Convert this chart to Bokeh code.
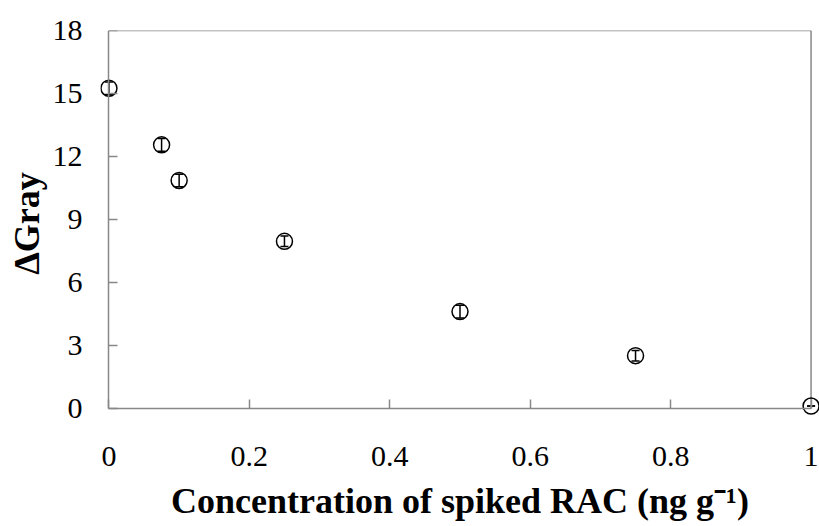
from bokeh.plotting import figure
from bokeh.models import ColumnDataSource, Whisker, TeeHead, Range1d, FixedTicker, LinearAxis
from bokeh.embed import file_html
from bokeh.resources import INLINE

conc = [0.0, 0.075, 0.1, 0.25, 0.5, 0.75, 1.0]
gray = [15.25, 12.55, 10.85, 7.95, 4.6, 2.5, 0.1]
err = [0.3, 0.3, 0.3, 0.25, 0.3, 0.25, 0.0]

x_ticks = [0, 0.2, 0.4, 0.6, 0.8, 1.0]
y_ticks = [0, 3, 6, 9, 12, 15, 18]

src = ColumnDataSource(dict(
    x=conc, y=gray,
    upper=[g + e for g, e in zip(gray, err)],
    lower=[g - e for g, e in zip(gray, err)],
))

x0, x1 = x_ticks[0], x_ticks[-1]
y0, y1 = y_ticks[0], y_ticks[-1]

p = figure(width=819, height=526, output_backend="svg", toolbar_location=None,
           x_range=Range1d(x0 - 0.012, x1 + 0.012), y_range=Range1d(y0 - 0.4, y1),
           min_border_left=100, min_border_top=30, min_border_right=0, min_border_bottom=110)

p.xgrid.visible = False
p.ygrid.visible = False
p.outline_line_color = None
p.background_fill_color = "white"
p.border_fill_color = "white"

frame_color = "#888888"
font = "Liberation Serif"

# label-only axes (text), drawn in the side panels
xa, ya = p.xaxis[0], p.yaxis[0]
for ax in (xa, ya):
    ax.axis_line_color = None
    ax.major_tick_line_color = None
    ax.minor_tick_line_color = None
    ax.major_tick_in = 0
    ax.major_tick_out = 0
    ax.major_label_text_font = font
    ax.major_label_text_font_size = "30px"
    ax.major_label_text_color = "black"
    ax.axis_label_text_font = font
    ax.axis_label_text_font_size = "36px"
    ax.axis_label_text_font_style = "bold"
    ax.axis_label_text_color = "black"
xa.ticker = FixedTicker(ticks=x_ticks)
ya.ticker = FixedTicker(ticks=y_ticks)
xa.major_label_overrides = {0: "0", 1.0: "1"}
xa.major_label_standoff = 30
xa.axis_label_standoff = 12
ya.major_label_standoff = 18
ya.axis_label_standoff = 3
xa.axis_label = "Concentration of spiked RAC (ng g\u207b\u00b9)"
ya.axis_label = "\u0394Gray"

# rule + tick axes at the data origin
def rule_axis(ticks, bounds, loc):
    a = LinearAxis(ticker=FixedTicker(ticks=ticks), bounds=bounds, fixed_location=loc)
    a.axis_line_color = frame_color
    a.axis_line_width = 1.5
    a.major_tick_line_color = frame_color
    a.major_tick_line_width = 1.5
    a.major_tick_in = 9
    a.major_tick_out = 0
    a.minor_tick_line_color = None
    a.major_label_overrides = {t: "" for t in ticks}
    a.major_label_text_font_size = "0px"
    a.major_label_standoff = 0
    return a

p.add_layout(rule_axis(x_ticks, (x0, x1), y0), "below")
p.add_layout(rule_axis(y_ticks, (y0, y1), x0), "left")

# top and right frame lines
p.segment(x0=[x0, x1], y0=[y1, y0], x1=[x1, x1], y1=[y1, y1],
          line_color=frame_color, line_width=1.5)

w = Whisker(source=src, base="x", upper="upper", lower="lower", dimension="height",
            line_color="black", line_width=1.5,
            upper_head=TeeHead(size=8, line_color="black", line_width=1.5),
            lower_head=TeeHead(size=8, line_color="black", line_width=1.5))
p.add_layout(w)

p.scatter("x", "y", source=src, size=16, fill_color=None, line_color="black", line_width=1.5)

open("out.html", "w").write(file_html(p, INLINE))
